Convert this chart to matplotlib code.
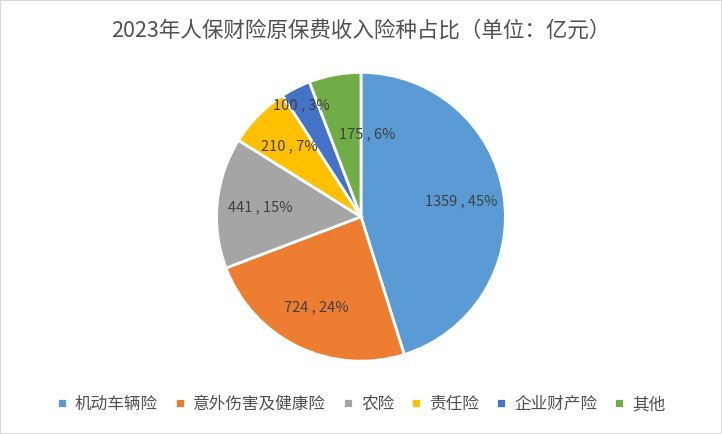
import matplotlib
matplotlib.use("Agg")
import matplotlib.pyplot as plt
from matplotlib.patches import Rectangle

plt.rcParams["font.family"] = ["Noto Sans CJK SC", "DejaVu Sans"]

categories = ["机动车辆险", "意外伤害及健康险", "农险", "责任险", "企业财产险", "其他"]
values = [1359, 724, 441, 210, 100, 175]
percents = [45, 24, 15, 7, 3, 6]
colors = ["#5B9BD5", "#ED7D31", "#A5A5A5", "#FFC000", "#4472C4", "#70AD47"]

fig = plt.figure(figsize=(7.22, 4.34), dpi=100)
fig.patches.append(Rectangle((0, 0), 1, 1, transform=fig.transFigure, fill=False,
                             edgecolor="#D9D9D9", linewidth=1.5))
ax = fig.add_axes([0.298, 0.164, 0.404, 0.673])
wedges, texts = ax.pie(values, colors=colors, startangle=90, counterclock=False,
                       labels=[f"{v} , {p}%" for v, p in zip(values, percents)],
                       labeldistance=0.70,
                       wedgeprops=dict(edgecolor="white", linewidth=2))
ax.set_xlim(-1.01, 1.01)
ax.set_ylim(-1.01, 1.01)
for t in texts:
    t.set_ha("center"); t.set_va("center"); t.set_color("#404040"); t.set_fontsize(10.5)
texts[4].set_position((-0.41, 0.77))
texts[5].set_position((0.04, 0.57))
ax.set_aspect("equal")
fig.text(0.5, 0.93, "2023年人保财险原保费收入险种占比（单位：亿元）", ha="center", va="center",
         fontsize=15.5, color="#505050")
fig.legend(wedges, categories, loc="center", bbox_to_anchor=(0.5, 0.068), ncol=6,
           frameon=False, fontsize=12, handlelength=0.6, handleheight=0.6,
           handletextpad=0.5, columnspacing=1.0, labelcolor="#505050")
fig.savefig("out.png", dpi=100)
